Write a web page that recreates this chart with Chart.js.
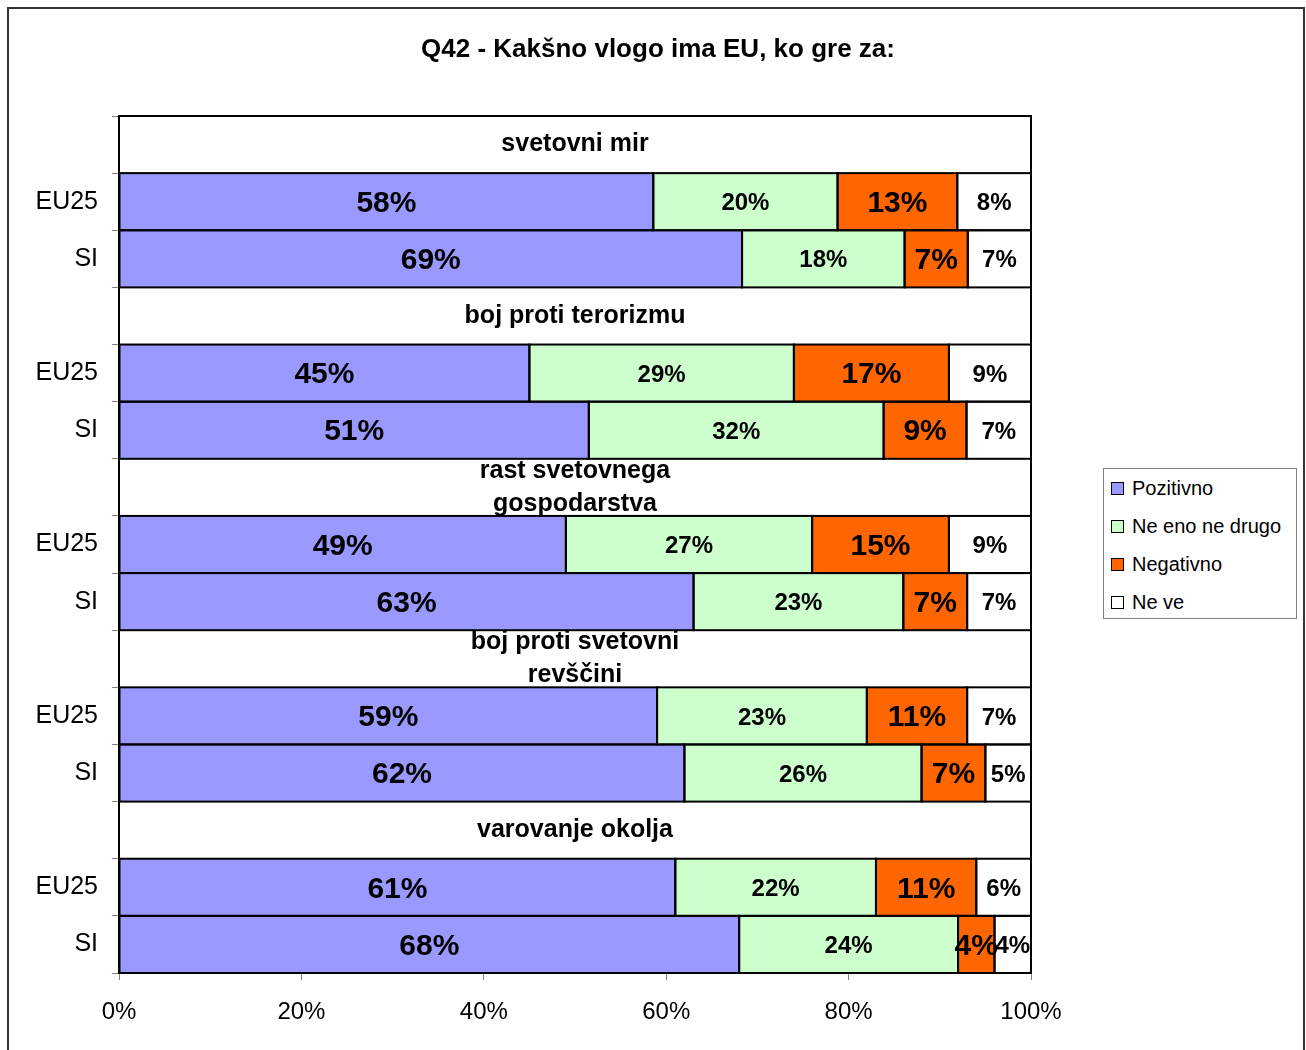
<!DOCTYPE html>
<html>
<head>
<meta charset="utf-8">
<script src="https://cdn.jsdelivr.net/npm/chart.js@4/dist/chart.umd.min.js"></script>
<style>
  body { margin: 0; background: #fff; font-family: "Liberation Sans", Arial, sans-serif; }
  #wrap { position: relative; width: 1306px; height: 1050px; }
  #legend {
    position: absolute; left: 1103px; top: 468px; width: 192px; height: 149px;
    border: 1px solid #808080; background: #fff;
  }
  #legend .item { position: absolute; left: 7px; height: 24px; display: flex; align-items: center; font-size: 20px; color: #000; }
  #legend .box { width: 11px; height: 11px; border: 1px solid #000; margin-right: 8px; }
</style>
</head>
<body>
<div id="wrap">
  <canvas id="chart" width="1306" height="1050"></canvas>
  <div id="legend"></div>
</div>
<script>
const TITLE = 'Q42 - Kakšno vlogo ima EU, ko gre za:';
const groups = [
  ['svetovni mir'],
  ['boj proti terorizmu'],
  ['rast svetovnega', 'gospodarstva'],
  ['boj proti svetovni', 'revščini'],
  ['varovanje okolja'],
];
const rowLabels = ['EU25', 'SI'];
const seriesNames = ['Pozitivno', 'Ne eno ne drugo', 'Negativno', 'Ne ve'];
const seriesColors = ['#9999FF', '#CCFFCC', '#FF6600', '#FFFFFF'];
const xTicks = ['0%', '20%', '40%', '60%', '80%', '100%'];

// one value per group row: EU25, SI, EU25, SI ...
const pozitivno    = [58, 69, 45, 51, 49, 63, 59, 62, 61, 68];
const neEnoNeDrugo = [20, 18, 29, 32, 27, 23, 23, 26, 22, 24];
const negativno    = [13, 7, 17, 9, 15, 7, 11, 7, 11, 4];
const neVe         = [8, 7, 9, 7, 9, 7, 7, 5, 6, 4];

const FONT = '"Liberation Sans", Arial, sans-serif';
const series = [pozitivno, neEnoNeDrugo, negativno, neVe];
const rowTotals = pozitivno.map((_, i) => series.reduce((s, arr) => s + arr[i], 0));

// every group gets a heading row followed by its EU25 / SI rows
const labels = [];
const headerRows = [];
groups.forEach((g) => {
  headerRows.push(labels.length);
  labels.push('');
  rowLabels.forEach((r) => labels.push(r));
});

function expand(values, scaled) {
  const out = [];
  groups.forEach((g, gi) => {
    out.push(null);
    rowLabels.forEach((r, ri) => {
      const i = gi * rowLabels.length + ri;
      out.push(scaled ? values[i] / rowTotals[i] * 100 : values[i]);
    });
  });
  return out;
}

const datasets = series.map((values, si) => ({
  label: seriesNames[si],
  data: expand(values, true),
  raw: expand(values, false),
  backgroundColor: seriesColors[si],
  borderWidth: 0,
  barPercentage: 1,
  categoryPercentage: 1,
  bigLabel: si === 0 || si === 2,
}));

const framePlugin = {
  id: 'frame',
  beforeDraw(chart) {
    const ctx = chart.ctx;
    ctx.save();
    ctx.strokeStyle = '#333';
    ctx.lineWidth = 2;
    ctx.beginPath();
    ctx.moveTo(8, 1060);
    ctx.lineTo(8, 8);
    ctx.lineTo(1304, 8);
    ctx.lineTo(1304, 1060);
    ctx.stroke();
    // chart title
    ctx.fillStyle = '#000';
    ctx.font = 'bold 26px ' + FONT;
    ctx.textAlign = 'center';
    ctx.textBaseline = 'middle';
    ctx.fillText(TITLE, 658, 50);
    ctx.restore();
  },
};

const barDecor = {
  id: 'barDecor',
  afterDatasetsDraw(chart) {
    const ctx = chart.ctx;
    const area = chart.chartArea;
    ctx.save();
    // outlines of every segment
    ctx.strokeStyle = '#000';
    ctx.lineWidth = 2;
    chart.data.datasets.forEach((ds, di) => {
      chart.getDatasetMeta(di).data.forEach((bar, i) => {
        if (ds.data[i] == null) return;
        const x0 = Math.min(bar.base, bar.x);
        const w = Math.abs(bar.x - bar.base);
        ctx.strokeRect(x0, bar.y - bar.height / 2, w, bar.height);
      });
    });
    // value labels
    ctx.fillStyle = '#000';
    ctx.textAlign = 'center';
    ctx.textBaseline = 'middle';
    chart.data.datasets.forEach((ds, di) => {
      ctx.font = 'bold ' + (ds.bigLabel ? 30 : 24) + 'px ' + FONT;
      chart.getDatasetMeta(di).data.forEach((bar, i) => {
        if (ds.raw[i] == null) return;
        ctx.fillText(ds.raw[i] + '%', (bar.base + bar.x) / 2, bar.y + 2);
      });
    });
    // group headings
    const y = chart.scales.y;
    ctx.font = 'bold 25px ' + FONT;
    const cx = (area.left + area.right) / 2;
    headerRows.forEach((row, gi) => {
      const lines = groups[gi];
      const cy = y.getPixelForValue(row);
      lines.forEach((line, li) => {
        ctx.fillText(line, cx, cy + (li - (lines.length - 1) / 2) * 33);
      });
    });
    // plot area border
    ctx.lineWidth = 2;
    ctx.strokeRect(area.left, area.top, area.right - area.left, area.bottom - area.top);
    ctx.restore();
  },
};

new Chart(document.getElementById('chart'), {
  type: 'bar',
  data: { labels, datasets },
  options: {
    indexAxis: 'y',
    responsive: false,
    animation: false,
    layout: { padding: { left: 0, right: 275, top: 116, bottom: 0 } },
    plugins: {
      legend: { display: false },
      tooltip: { enabled: false },
      title: { display: false },
    },
    scales: {
      x: {
        stacked: true,
        min: 0,
        max: 100,
        grid: { drawOnChartArea: false, color: '#808080', tickLength: 7 },
        border: { display: false },
        ticks: {
          stepSize: 20,
          color: '#000',
          padding: 18,
          font: { family: FONT, size: 24 },
          callback: (v, i) => xTicks[i],
        },
        afterFit: (scale) => { scale.height = 77; },
      },
      y: {
        stacked: true,
        grid: { drawOnChartArea: false, color: '#808080', tickLength: 7, offset: true },
        border: { display: false },
        ticks: {
          color: '#000',
          padding: 14,
          autoSkip: false,
          font: { family: FONT, size: 25 },
        },
        afterFit: (scale) => { scale.width = 119; },
      },
    },
  },
  plugins: [framePlugin, barDecor],
});

// legend beside the plot
const legend = document.getElementById('legend');
seriesNames.forEach((name, i) => {
  const item = document.createElement('div');
  item.className = 'item';
  item.style.top = (7 + i * 38) + 'px';
  const box = document.createElement('span');
  box.className = 'box';
  box.style.background = seriesColors[i];
  item.appendChild(box);
  item.appendChild(document.createTextNode(name));
  legend.appendChild(item);
});
</script>
</body>
</html>
